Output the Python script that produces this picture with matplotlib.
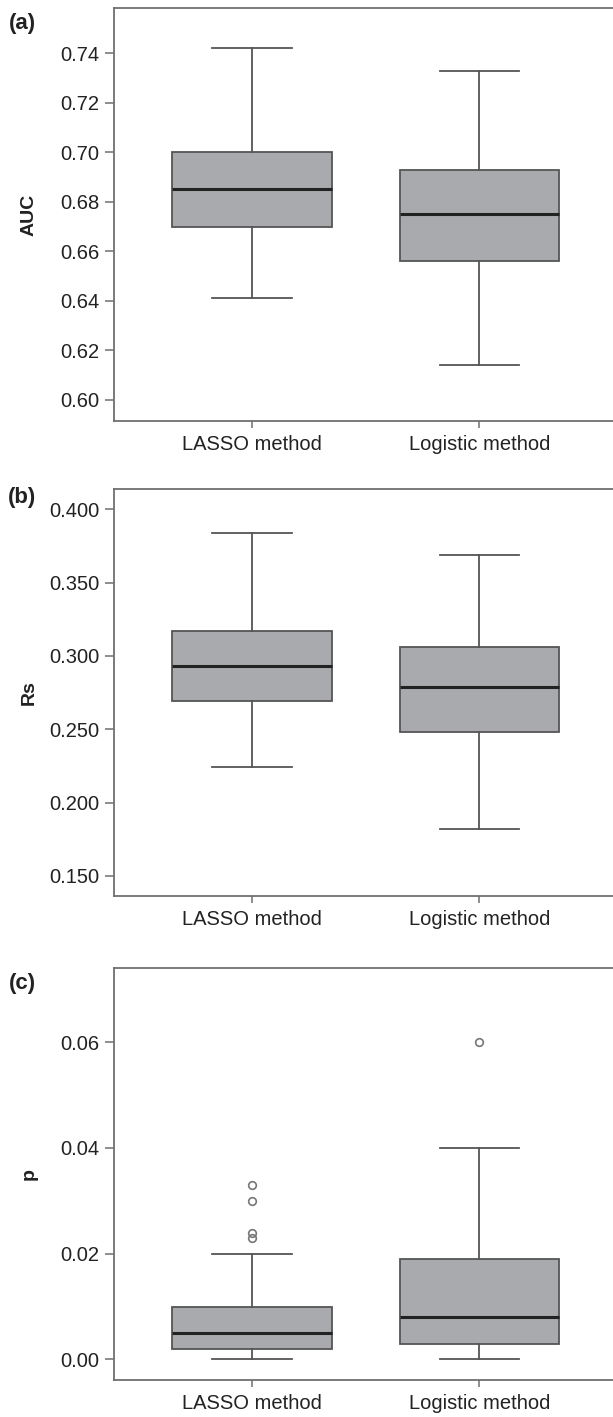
import matplotlib
matplotlib.use("Agg")
import matplotlib.pyplot as plt
from matplotlib.ticker import FormatStrFormatter

plt.rcParams['font.family'] = ['Liberation Sans', 'DejaVu Sans']

categories = ["LASSO method", "Logistic method"]

# Panel (a): AUC
auc_whislo = [0.641, 0.614]
auc_q1 = [0.670, 0.656]
auc_med = [0.685, 0.675]
auc_q3 = [0.700, 0.693]
auc_whishi = [0.742, 0.733]
auc_fliers = [[], []]

# Panel (b): Rs
rs_whislo = [0.224, 0.182]
rs_q1 = [0.269, 0.248]
rs_med = [0.293, 0.279]
rs_q3 = [0.317, 0.306]
rs_whishi = [0.384, 0.369]
rs_fliers = [[], []]

# Panel (c): p
p_whislo = [0.000, 0.000]
p_q1 = [0.002, 0.003]
p_med = [0.005, 0.008]
p_q3 = [0.010, 0.019]
p_whishi = [0.020, 0.040]
p_fliers = [[0.033, 0.030, 0.024, 0.023], [0.060]]

auc_ticks = [0.60, 0.62, 0.64, 0.66, 0.68, 0.70, 0.72, 0.74]
rs_ticks = [0.150, 0.200, 0.250, 0.300, 0.350, 0.400]
p_ticks = [0.00, 0.02, 0.04, 0.06]

W, H = 613, 1417
fig = plt.figure(figsize=(W / 100, H / 100), dpi=100)

left_px, right_px = 113.7, 617.6
panels = [
    dict(top=8.3, bottom=420.7, lo=auc_whislo, q1=auc_q1, med=auc_med, q3=auc_q3,
         hi=auc_whishi, fl=auc_fliers, ylim=(0.5916, 0.7582), ticks=auc_ticks,
         fmt='%.2f', ylabel='AUC', tag='(a)', tag_y=24),
    dict(top=489.3, bottom=896.0, lo=rs_whislo, q1=rs_q1, med=rs_med, q3=rs_q3,
         hi=rs_whishi, fl=rs_fliers, ylim=(0.13636, 0.41364), ticks=rs_ticks,
         fmt='%.3f', ylabel='Rs', tag='(b)', tag_y=497),
    dict(top=968.3, bottom=1380.0, lo=p_whislo, q1=p_q1, med=p_med, q3=p_q3,
         hi=p_whishi, fl=p_fliers, ylim=(-0.0039, 0.074), ticks=p_ticks,
         fmt='%.2f', ylabel='p', tag='(c)', tag_y=983),
]

spine_col = '#6f6f6f'
edge_col = '#555555'
fill_col = '#a9aaad'

for pnl in panels:
    ax = fig.add_axes([left_px / W, 1 - pnl['bottom'] / H,
                       (right_px - left_px) / W, (pnl['bottom'] - pnl['top']) / H])
    stats = []
    for i, name in enumerate(categories):
        stats.append(dict(label=name, whislo=pnl['lo'][i], q1=pnl['q1'][i],
                          med=pnl['med'][i], q3=pnl['q3'][i], whishi=pnl['hi'][i],
                          fliers=pnl['fl'][i]))
    ax.bxp(stats, positions=[0, 1], widths=0.70, capwidths=0.35, patch_artist=True,
           boxprops=dict(facecolor=fill_col, edgecolor=edge_col, linewidth=1.3),
           medianprops=dict(color='#222222', linewidth=2.2),
           whiskerprops=dict(color=edge_col, linewidth=1.3),
           capprops=dict(color=edge_col, linewidth=1.3),
           flierprops=dict(marker='o', markersize=5.5, markerfacecolor='none',
                           markeredgecolor='#777777', markeredgewidth=1.2))
    ax.set_xlim(-0.6085, 1.6085)
    ax.set_ylim(*pnl['ylim'])
    ax.set_yticks(pnl['ticks'])
    ax.yaxis.set_major_formatter(FormatStrFormatter(pnl['fmt']))
    ax.set_xticks([0, 1])
    ax.set_xticklabels(categories)
    for s in ax.spines.values():
        s.set_color(spine_col)
        s.set_linewidth(1.3)
    ax.tick_params(axis='y', length=6.5, width=1.1, color=spine_col, pad=4,
                   labelsize=14.5, labelcolor='#222222')
    ax.tick_params(axis='x', length=5, width=1.1, color=spine_col, pad=5,
                   labelsize=14.5, labelcolor='#222222')
    ax.set_ylabel(pnl['ylabel'], fontsize=14, fontweight='bold', color='#222222',
                  va='center')
    ax.yaxis.set_label_coords((29 - left_px) / (right_px - left_px), 0.5)
    fig.text(22 / W, 1 - pnl['tag_y'] / H, pnl['tag'], fontsize=16, fontweight='bold',
             ha='center', va='center', color='#222222')

fig.savefig('out.png', dpi=100)
